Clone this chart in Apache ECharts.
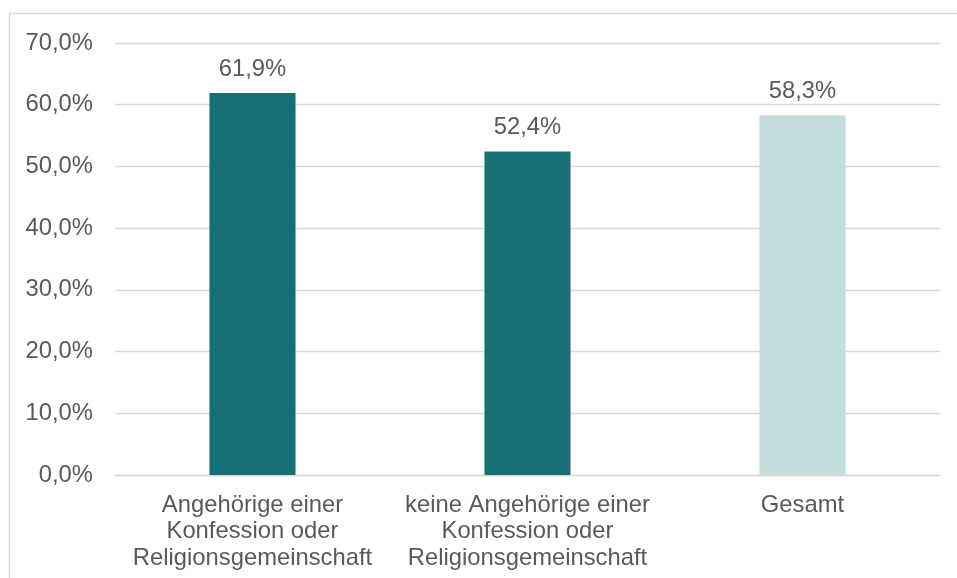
<!DOCTYPE html>
<html>
<head>
<meta charset="utf-8">
<script src="https://cdn.jsdelivr.net/npm/echarts@6/dist/echarts.min.js"></script>
<style>
html,body{margin:0;padding:0;background:#fff;}
#chart{width:957px;height:578px;}
</style>
</head>
<body>
<div id="chart"></div>
<script>
const categories = [
  "Angehörige einer\nKonfession oder\nReligionsgemeinschaft",
  "keine Angehörige einer\nKonfession oder\nReligionsgemeinschaft",
  "Gesamt"
];
const values = [61.9, 52.4, 58.3];
const yTicks = [0, 10, 20, 30, 40, 50, 60, 70];

const DARK = '#177075';
const LIGHT = '#c3dcde';
const TEXT = '#595959';
const FONT = '"Liberation Sans", Arial, sans-serif';
const FS = 23.8;

const fmt = v => v.toFixed(1).replace('.', ',') + '%';

const chart = echarts.init(document.getElementById('chart'), null, {renderer: 'canvas'});
chart.setOption({
  animation: false,
  backgroundColor: '#ffffff',
  graphic: [{
    type: 'rect',
    shape: {x: 9.5, y: 13.5, width: 1000, height: 700},
    style: {fill: 'none', stroke: '#d9d9d9', lineWidth: 1.5},
    silent: true,
    z: -1
  }],
  grid: {left: 115, right: 17, top: 43, bottom: 103, containLabel: false},
  xAxis: {
    type: 'category',
    data: categories,
    axisLine: {show: true, lineStyle: {color: '#d9d9d9', width: 1.3}},
    axisTick: {show: false},
    axisLabel: {
      color: TEXT, fontFamily: FONT, fontSize: FS, lineHeight: 26.5,
      margin: 17, interval: 0, align: 'center'
    }
  },
  yAxis: {
    type: 'value',
    min: yTicks[0],
    max: yTicks[yTicks.length - 1],
    interval: 10,
    axisLine: {show: false},
    axisTick: {show: false},
    splitLine: {lineStyle: {color: '#d9d9d9', width: 1.3}},
    axisLabel: {
      color: TEXT, fontFamily: FONT, fontSize: FS, margin: 22,
      formatter: v => fmt(v)
    }
  },
  series: [{
    type: 'bar',
    data: values,
    barWidth: '31.3%',
    itemStyle: {
      color: p => (p.dataIndex === values.length - 1 ? LIGHT : DARK)
    },
    label: {
      show: true,
      position: 'top',
      distance: 12,
      color: TEXT,
      fontFamily: FONT,
      fontSize: FS,
      formatter: p => fmt(p.value)
    }
  }]
});
</script>
</body>
</html>
